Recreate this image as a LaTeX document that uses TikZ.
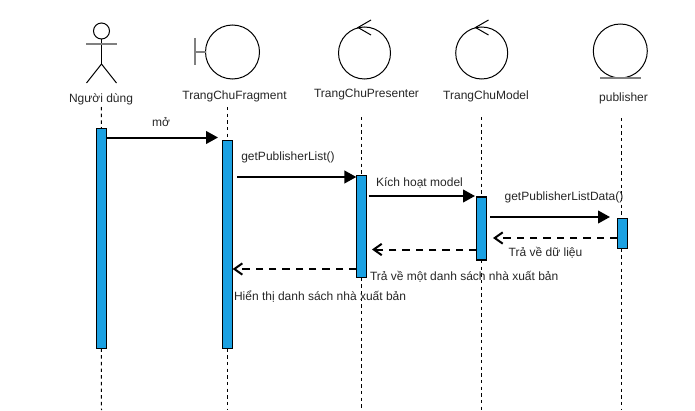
\documentclass[tikz,border=0pt]{standalone}
\usepackage{fontspec}
\setmainfont{Liberation Sans}
\usetikzlibrary{arrows.meta}
\definecolor{barblue}{HTML}{1BA1E2}
\definecolor{softgray}{HTML}{808080}
\tikzset{
  x=0.75pt,y=-0.75pt,
  every node/.style={inner sep=0pt,outer sep=0pt},
  labeltext/.style={font=\fontsize{9}{11}\selectfont,text=black!85,anchor=center},
  leftlabel/.style={font=\fontsize{9}{11}\selectfont,text=black!85,anchor=west},
  symbolline/.style={line width=0.75pt,black},
  graybar/.style={line width=1.5pt,softgray},
  activation/.style={draw=black,fill=barblue,line width=0.9pt,minimum width=7.7pt,anchor=north},
  lifeline/.style={line width=0.75pt,dash pattern=on 2.6pt off 2.4pt,black},
  callmsg/.style={line width=1.5pt,black,-{Triangle[length=9pt,width=9.5pt]}},
  returnmsg/.style={line width=1.5pt,black,dash pattern=on 5.5pt off 4.5pt,-{Straight Barb[length=6pt,width=8.5pt,line width=1.5pt]}},
}
\begin{document}
\begin{tikzpicture}
\useasboundingbox (0,0) rectangle (695,410);

% activation bars
\node[activation,minimum height=165pt] (barA) at (101.3,128.5) {};
\node[activation,minimum height=156pt] (barB) at (227.5,140.5) {};
\node[activation,minimum height=76.5pt] (barC) at (361.5,175.5) {};
\node[activation,minimum height=47.2pt] (barD) at (481.5,197) {};
\node[activation,minimum height=22.5pt] (barE) at (622.3,218.5) {};

% actor
\node[draw,circle,symbolline,minimum size=12pt] (head) at (101.5,31) {};
\coordinate (armL) at (86,44);
\coordinate (armR) at (117,44);
\coordinate (hip) at (101.5,64);
\coordinate (footL) at (86.5,83);
\coordinate (footR) at (116.5,83);
\draw[symbolline] (head.south) -- (hip);
\draw[graybar] (armL) -- (armR);
\draw[symbolline] (footL) -- (hip) -- (footR);

% boundary
\node[draw,circle,symbolline,minimum size=40.5pt] (boundary) at (232.5,52) {};
\coordinate (boundTop) at (195,38);
\coordinate (boundBot) at (195,65);
\coordinate (boundMid) at (195,52);
\draw[graybar] (boundTop) -- (boundBot);
\draw[graybar] (boundMid) -- (boundary.west);

% control: presenter
\node[draw,circle,symbolline,minimum size=39pt] (presenter) at (364.5,53) {};
\coordinate (pTip) at (358,27.5);
\coordinate (pA) at (371,20);
\coordinate (pB) at (371,35);
\draw[symbolline] (pA) -- (pTip) -- (pB);

% control: model
\node[draw,circle,symbolline,minimum size=39pt] (model) at (481.7,53) {};
\coordinate (mTip) at (475.5,27.5);
\coordinate (mA) at (488.5,20);
\coordinate (mB) at (488.5,35);
\draw[symbolline] (mA) -- (mTip) -- (mB);

% entity
\node[draw,circle,symbolline,minimum size=40.5pt] (entity) at (620.3,51) {};
\coordinate (eL) at (600,77.5);
\coordinate (eR) at (641,77.5);
\draw[graybar] (eL) -- (eR);

% participant labels
\node[labeltext] (lblA) at (101,99) {Người dùng};
\node[labeltext] (lblB) at (234.5,96) {TrangChuFragment};
\node[labeltext] (lblC) at (366.5,94) {TrangChuPresenter};
\node[labeltext] (lblD) at (486,96.5) {TrangChuModel};
\node[labeltext] (lblE) at (623.5,98.5) {publisher};

% lifelines
\coordinate (topA) at (101.5,107);
\coordinate (topB) at (227.5,107);
\coordinate (topC) at (361.5,117);
\coordinate (topD) at (481.5,117);
\coordinate (topE) at (621.5,118);
\coordinate (endA) at (101.5,410);
\coordinate (endB) at (227.5,410);
\coordinate (endC) at (361.5,410);
\coordinate (endD) at (481.5,410);
\coordinate (endE) at (621.5,410);
\draw[lifeline] (topA) -- (barA.north);
\draw[lifeline] (barA.south) -- (endA);
\draw[lifeline] (topB) -- (barB.north);
\draw[lifeline] (barB.south) -- (endB);
\draw[lifeline] (topC) -- (barC.north);
\draw[lifeline] (barC.south) -- (endC);
\draw[lifeline] (topD) -- (barD.north);
\draw[lifeline] (barD.south) -- (endD);
\draw[lifeline] (topE) -- (topE |- barE.north);
\draw[lifeline] (topE |- barE.south) -- (endE);

% messages
\draw[callmsg] (barA.east |- 0,137.5) -- (218,137.5);
\draw[callmsg] (237,177) -- (barC.west |- 0,177);
\draw[callmsg] (barC.east |- 0,196) ++(2,0) -- (475,196);
\draw[callmsg] (490,217) -- (610,217);
\draw[returnmsg] (barE.west |- 0,238) -- (493,238);
\draw[returnmsg] (barD.west |- 0,249.5) -- (372,249.5);
\draw[returnmsg] (barC.west |- 0,269) -- (barB.east |- 0,269);

% message labels
\node[labeltext] (m1) at (161,122.5) {mở};
\node[labeltext] (m2) at (288,157) {getPublisherList()};
\node[labeltext] (m3) at (419.5,183) {Kích hoạt model};
\node[labeltext] (m4) at (564,197) {getPublisherListData()};
\node[labeltext] (m5) at (545.5,253) {Trả về dữ liệu};
\node[leftlabel] (m6) at (370,277) {Trả về một danh sách nhà xuất bản};
\node[leftlabel] (m7) at (234,297) {Hiển thị danh sách nhà xuất bản};
\end{tikzpicture}
\end{document}
